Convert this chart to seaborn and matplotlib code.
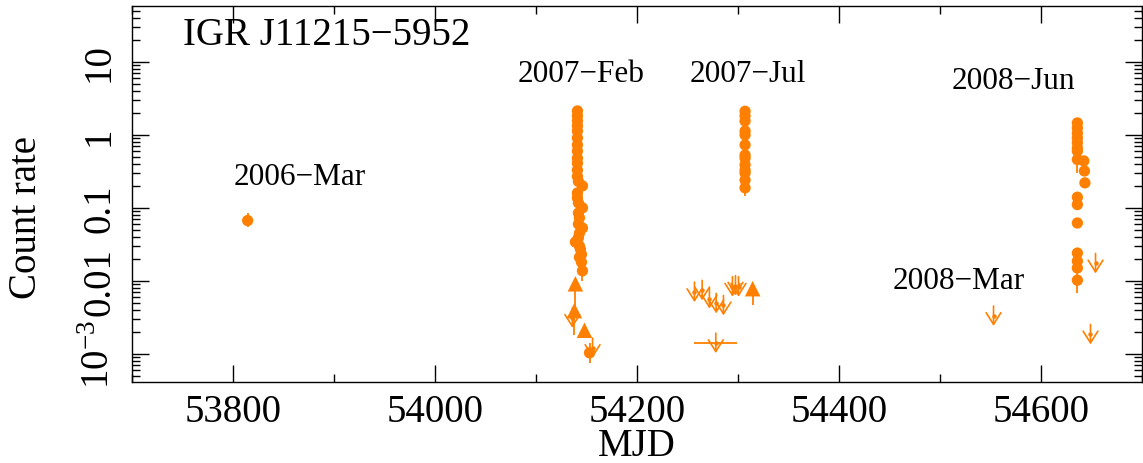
import matplotlib
matplotlib.use("Agg")
import matplotlib.pyplot as plt
from matplotlib.ticker import FixedLocator, FixedFormatter, LogLocator, MultipleLocator, NullFormatter
import seaborn as sns
import pandas as pd

# --- data --------------------------------------------------------------
# detections (filled circles)
mar06_mjd = [53814.5]
mar06_rate = [0.067]

feb07_mjd = [54141, 54141, 54141, 54141, 54141, 54141, 54141, 54141, 54141, 54141,
             54141, 54141, 54142, 54146, 54141, 54141, 54142, 54146, 54142, 54143,
             54142, 54146, 54143, 54142, 54139, 54143, 54144, 54145, 54143, 54145,
             54146, 54153]
feb07_rate = [2.13, 1.82, 1.56, 1.33, 1.13, 0.91, 0.73, 0.60, 0.48, 0.41,
              0.33, 0.27, 0.23, 0.20, 0.16, 0.137, 0.117, 0.100, 0.085, 0.073,
              0.060, 0.053, 0.045, 0.039, 0.034, 0.030, 0.027, 0.023, 0.021, 0.018,
              0.0137, 0.00103]

jul07_mjd = [54307, 54307, 54307, 54307, 54307, 54307, 54307, 54307, 54307, 54307,
             54307, 54307, 54307]
jul07_rate = [2.11, 1.82, 1.55, 1.13, 1.0, 0.73, 0.53, 0.48, 0.39, 0.33, 0.30, 0.24, 0.188]

jun08_mjd = [54636, 54636, 54636, 54636, 54636, 54636, 54636, 54636, 54642.4, 54643,
             54643.5, 54636, 54636, 54636, 54636, 54636, 54636, 54636]
jun08_rate = [1.46, 1.25, 1.06, 0.91, 0.78, 0.66, 0.60, 0.46, 0.44, 0.32,
              0.22, 0.14, 0.111, 0.062, 0.024, 0.0186, 0.015, 0.0102]

# detections whose error bars stick out of the marker
eb_mjd = [53814.5, 54146, 54307, 54636, 54636, 54153]
eb_rate = [0.067, 0.0137, 0.188, 0.46, 0.0102, 0.00103]
eb_lo = [0.013, 0.0037, 0.042, 0.155, 0.0034, 0.00028]
eb_hi = [0.017, 0.0, 0.0, 0.0, 0.0045, 0.00038]

# triangles
tri_mjd = [54139, 54138, 54148, 54314.5]
tri_rate = [0.0091, 0.0039, 0.0021, 0.0078]
tri_lo = [0.0052, 0.0021, 0.0004, 0.0031]
tri_hi = [0.0, 0.0, 0.0, 0.0014]

# upper limits (arrows)
ul_mjd = [54136, 54156, 54256.9, 54264.5, 54271.7, 54278.4, 54285.6, 54294.5,
          54297.5, 54300.5, 54278, 54553, 54654, 54649]
ul_rate = [0.0031, 0.0012, 0.0070, 0.0074, 0.0057, 0.0049, 0.0046, 0.0083,
           0.0086, 0.0083, 0.0014, 0.0033, 0.0173, 0.00184]
ul_xerr = [0, 0, 0, 0, 0, 0, 0, 0, 0, 0, 21.3, 0, 0, 0]

epoch_labels = ["2006\u2212Mar", "2007\u2212Feb", "2007\u2212Jul", "2008\u2212Mar", "2008\u2212Jun"]
epoch_label_mjd = [53800.3, 54081.6, 54252, 54452.7, 54511.4]
epoch_label_rate = [0.213, 5.5, 5.5, 0.00785, 4.4]

ytick_vals = [1e-3, 1e-2, 1e-1, 1, 10]
ytick_text = ["$10^{\u22123}$", "0.01", "0.1", "1", "10"]

# --- style --------------------------------------------------------------
ORANGE = "#ff8000"
UL_SPAN = 1.37  # arrow half-length as a factor in rate

sns.set_theme(style="ticks")
plt.rcParams["font.family"] = ["Liberation Serif", "DejaVu Serif"]
plt.rcParams["mathtext.fontset"] = "custom"
plt.rcParams["mathtext.rm"] = "Liberation Serif"
plt.rcParams["mathtext.it"] = "Liberation Serif:italic"
plt.rcParams["axes.linewidth"] = 1.0
for key in ["text.color", "axes.labelcolor", "axes.edgecolor", "xtick.color", "ytick.color"]:
    plt.rcParams[key] = "black"

det = pd.DataFrame({
    "mjd": mar06_mjd + feb07_mjd + jul07_mjd + jun08_mjd,
    "rate": mar06_rate + feb07_rate + jul07_rate + jun08_rate,
})
tri = pd.DataFrame({"mjd": tri_mjd, "rate": tri_rate})

fig = plt.figure(figsize=(11.43, 4.64), dpi=100)
ax = fig.add_axes([132 / 1143, 1 - 383 / 464, (1142 - 132) / 1143, (383 - 7) / 464])
ax.set_yscale("log")

# error bars first, markers on top
ax.errorbar(eb_mjd, eb_rate, yerr=[eb_lo, eb_hi], fmt="none", ecolor=ORANGE, elinewidth=1.3, capsize=0)
ax.errorbar(tri_mjd, tri_rate, yerr=[tri_lo, tri_hi], fmt="none", ecolor=ORANGE, elinewidth=1.3, capsize=0)

sns.scatterplot(data=det, x="mjd", y="rate", color=ORANGE, s=66, edgecolor="none", ax=ax, zorder=3)
sns.scatterplot(data=tri, x="mjd", y="rate", color=ORANGE, marker="^", s=125, edgecolor="none", ax=ax, zorder=3)

# upper limits
ax.errorbar(ul_mjd, ul_rate, xerr=ul_xerr, fmt="o", ms=2.2, color=ORANGE, elinewidth=1.3, capsize=0)
for x, r in zip(ul_mjd, ul_rate):
    ax.annotate("", xy=(x, r / UL_SPAN), xytext=(x, r * UL_SPAN),
                arrowprops=dict(arrowstyle="->,head_length=0.6,head_width=0.38", color=ORANGE,
                                lw=1.2, shrinkA=0, shrinkB=0, mutation_scale=14))

# axes
ax.set_xlim(53700, 54700)
ax.set_ylim(4.1e-4, 58.5)
ax.xaxis.set_major_locator(MultipleLocator(200))
ax.xaxis.set_minor_locator(MultipleLocator(100))
ax.yaxis.set_major_locator(FixedLocator(ytick_vals))
ax.yaxis.set_major_formatter(FixedFormatter(ytick_text))
ax.yaxis.set_minor_locator(LogLocator(base=10, subs=[2, 3, 4, 5, 6, 7, 8, 9], numticks=20))
ax.yaxis.set_minor_formatter(NullFormatter())
ax.tick_params(which="both", direction="in", top=True, right=True, width=1.0, color="black")
ax.tick_params(which="major", length=12)
ax.tick_params(which="minor", length=6)
ax.tick_params(axis="x", which="major", labelsize=28, pad=8)
ax.tick_params(axis="y", which="major", labelsize=28, pad=10)
for lab in ax.get_yticklabels():
    lab.set_rotation(90)
    lab.set_va("center")

ax.set_xlabel("MJD", fontsize=28, labelpad=-2)
ax.set_ylabel("Count rate", fontsize=28)
ax.yaxis.set_label_coords(-0.086, 0.44)

ax.text(0.0505, 0.899, "IGR J11215\u22125952", transform=ax.transAxes, fontsize=28,
        ha="left", va="baseline")
for lab, x, r in zip(epoch_labels, epoch_label_mjd, epoch_label_rate):
    ax.text(x, r, lab, fontsize=22.5, ha="left", va="baseline")

fig.savefig("out.png", dpi=100)
